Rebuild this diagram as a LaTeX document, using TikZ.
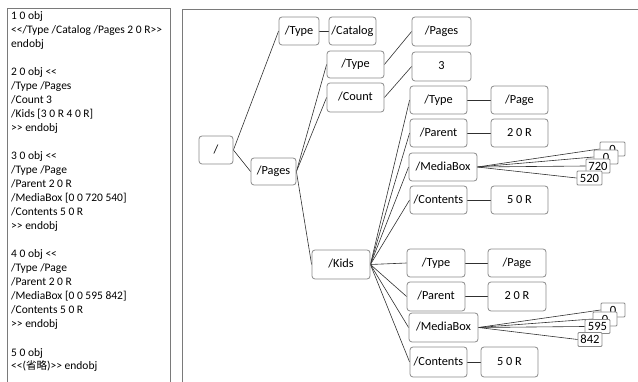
\documentclass[tikz,border=0pt]{standalone}
\usepackage{fontspec}
\newfontfamily\calfont{Carlito}
\newfontfamily\cjkfont{Noto Sans CJK JP}
\usetikzlibrary{backgrounds}
\definecolor{boxgray}{HTML}{8A8A8A}
\definecolor{panelgray}{HTML}{7A7A7A}
\definecolor{linegray}{HTML}{303030}
\tikzset{
  box/.style={draw=boxgray, line width=0.8pt, rounded corners=3pt, fill=white,
    font=\calfont\fontsize{12.3}{14}\selectfont, text height=8.7pt, text depth=2.5pt, inner sep=0pt},
  numbox/.style={draw=boxgray, line width=0.8pt, rounded corners=1pt, fill=white,
    font=\calfont\fontsize{12.6}{14}\selectfont, text height=9pt, text depth=0pt, inner sep=0pt},
  conn/.style={draw=linegray, line width=0.6pt},
  panel/.style={draw=panelgray, line width=1pt},
  lst/.style={font=\calfont\fontsize{11.5}{14}\selectfont, inner sep=0pt, anchor=base west}
}
\newcommand\lstline[2]{\node[lst] (l#1) at (11,{20+(#1-1)*14.0}) {#2};}
\begin{document}
\begin{tikzpicture}[x=1pt,y=-1pt]
\useasboundingbox (0,0) rectangle (638,382);
% panels
\draw[panel] (7,392) -- (7,9) -- (170,9) -- (170,392);
\draw[panel] (182,392) -- (182,10) -- (645,10);
% listing
\lstline{1}{1 0 obj}
\lstline{2}{<</Type /Catalog /Pages 2 0 R>>}
\lstline{3}{endobj}
\lstline{5}{2 0 obj <<}
\lstline{6}{/Type /Pages}
\lstline{7}{/Count 3}
\lstline{8}{/Kids [3 0 R 4 0 R]}
\lstline{9}{>> endobj}
\lstline{11}{3 0 obj <<}
\lstline{12}{/Type /Page}
\lstline{13}{/Parent 2 0 R}
\lstline{14}{/MediaBox [0 0 720 540]}
\lstline{15}{/Contents 5 0 R}
\lstline{16}{>> endobj}
\lstline{18}{4 0 obj <<}
\lstline{19}{/Type /Page}
\lstline{20}{/Parent 2 0 R}
\lstline{21}{/MediaBox [0 0 595 842]}
\lstline{22}{/Contents 5 0 R}
\lstline{23}{>> endobj}
\lstline{25}{5 0 obj}
\lstline{26}{<<({\cjkfont\fontsize{10.5}{14}\selectfont 省略})>> endobj}
% tree nodes
\node[box,minimum width=34pt,minimum height=28pt] (root) at (216,150) {/};
\node[box,minimum width=40pt,minimum height=28pt] (t1) at (299,31) {/Type};
\node[box,minimum width=47pt,minimum height=28pt] (cat) at (352.5,31) {/Catalog};
\node[box,minimum width=45pt,minimum height=27pt] (pages) at (273.5,171.5) {/Pages};
\node[box,minimum width=57pt,minimum height=27pt] (pt) at (355.5,64.5) {/Type};
\node[box,minimum width=57pt,minimum height=29pt] (pc) at (355.5,97.5) {/Count};
\node[box,minimum width=59pt,minimum height=29pt] (pv) at (441.5,31.5) {/Pages};
\node[box,minimum width=59pt,minimum height=29pt] (cv) at (441.5,66.5) {3};
\node[box,minimum width=58pt,minimum height=29pt] (kids) at (341,264.5) {/Kids};
% page 1
\node[box,minimum width=57pt,minimum height=28pt] (a1) at (438.5,100) {/Type};
\node[box,minimum width=57pt,minimum height=28pt] (a1v) at (519.5,100) {/Page};
\node[box,minimum width=57pt,minimum height=28pt] (b1) at (438.5,133) {/Parent};
\node[box,minimum width=57pt,minimum height=28pt] (b1v) at (519.5,133) {2 0 R};
\node[box,minimum width=68pt,minimum height=28pt] (m1) at (443,167) {/MediaBox};
\node[box,minimum width=57pt,minimum height=28pt] (c1) at (438.5,200) {/Contents};
\node[box,minimum width=57pt,minimum height=28pt] (c1v) at (519.5,200) {5 0 R};
\node[numbox,minimum width=25pt,minimum height=14pt] (n11) at (612.5,149) {0};
\node[numbox,minimum width=24pt,minimum height=14pt] (n12) at (606,157) {0};
\node[numbox,minimum width=24pt,minimum height=14pt] (n13) at (598,166) {720};
\node[numbox,minimum width=25pt,minimum height=14pt] (n14) at (589.5,178) {520};
% page 2
\node[box,minimum width=58pt,minimum height=28pt] (a2) at (436,263) {/Type};
\node[box,minimum width=58pt,minimum height=28pt] (a2v) at (517,263) {/Page};
\node[box,minimum width=58pt,minimum height=29pt] (b2) at (436,296.5) {/Parent};
\node[box,minimum width=58pt,minimum height=29pt] (b2v) at (517,296.5) {2 0 R};
\node[box,minimum width=69pt,minimum height=29pt] (m2) at (443.5,327.5) {/MediaBox};
\node[box,minimum width=57pt,minimum height=30pt] (c2) at (438.5,362) {/Contents};
\node[box,minimum width=57pt,minimum height=30pt] (c2v) at (509.5,362) {5 0 R};
\node[numbox,minimum width=24pt,minimum height=14pt] (n21) at (613,310) {0};
\node[numbox,minimum width=24pt,minimum height=14pt] (n22) at (605,319) {0};
\node[numbox,minimum width=25pt,minimum height=14pt] (n23) at (597.5,326.5) {595};
\node[numbox,minimum width=24pt,minimum height=14pt] (n24) at (590,339.5) {842};
% connectors
\begin{scope}[on background layer]
\draw[conn] (root.east) -- (t1.west);
\draw[conn] (root.east) -- (pages.west);
\draw[conn] (t1.east) -- (cat.west);
\draw[conn] (pages.east) -- (pt.west);
\draw[conn] (pages.east) -- (pc.west);
\draw[conn] (pages.east) -- (kids.west);
\draw[conn] (pt.east) -- (pv.west);
\draw[conn] (pc.east) -- (cv.west);
\foreach \c in {a1,b1,m1,c1,a2,b2,m2,c2} \draw[conn] (kids.east) -- (\c.west);
\draw[conn] (a1.east) -- (a1v.west);
\draw[conn] (b1.east) -- (b1v.west);
\draw[conn] (c1.east) -- (c1v.west);
\draw[conn] (a2.east) -- (a2v.west);
\draw[conn] (b2.east) -- (b2v.west);
\draw[conn] (c2.east) -- (c2v.west);
\foreach \n in {n11,n12,n13,n14} \draw[conn] (m1.east) -- (\n.west);
\foreach \n in {n21,n22,n23,n24} \draw[conn] (m2.east) -- (\n.west);
\end{scope}
\end{tikzpicture}
\end{document}
